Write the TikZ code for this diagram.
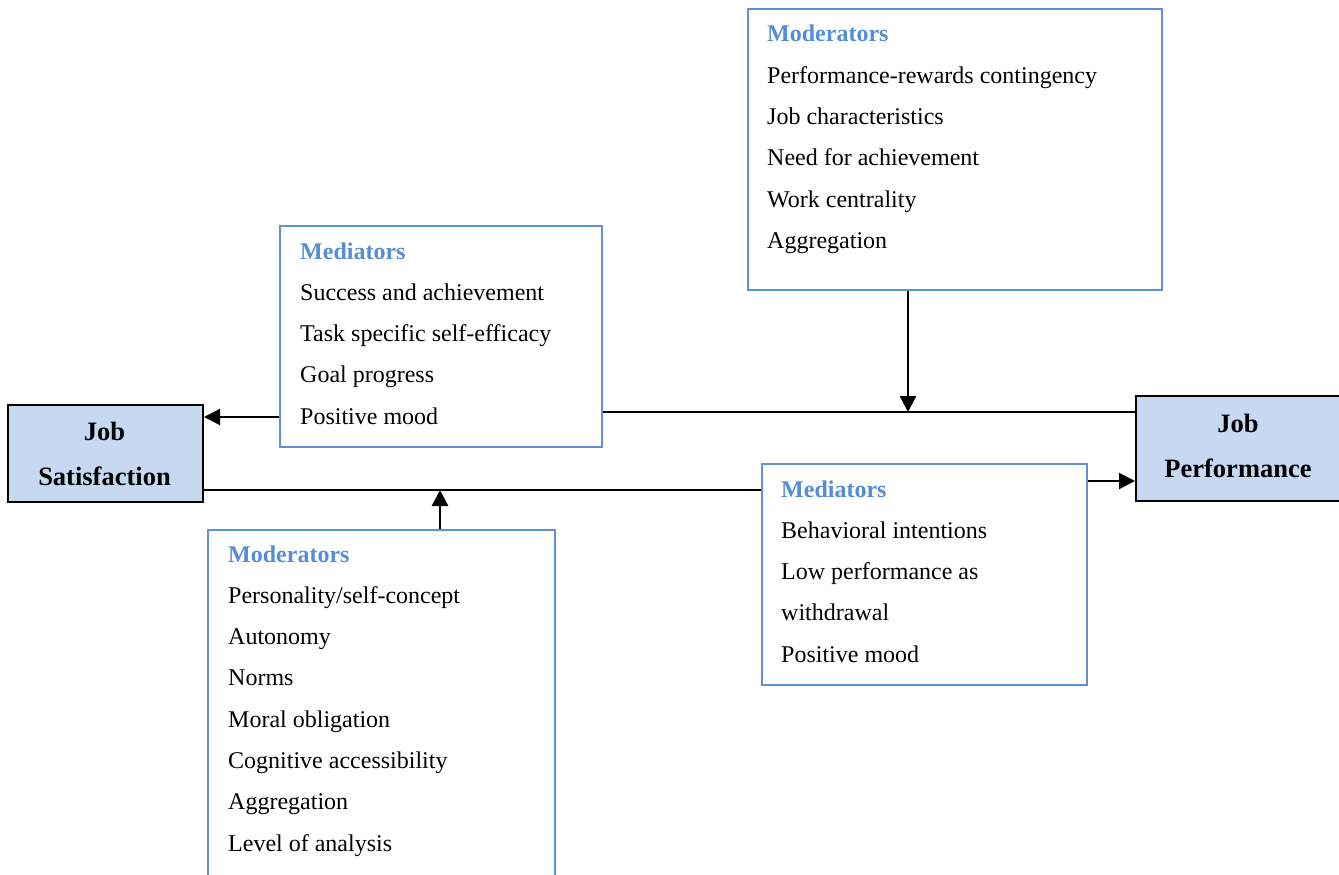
\documentclass[tikz,border=0pt]{standalone}
\usepackage{fontspec}
\setmainfont{Liberation Serif}
\usetikzlibrary{arrows.meta}
\definecolor{bordblue}{RGB}{95,145,215}
\definecolor{headblue}{RGB}{85,142,213}
\definecolor{fillblue}{RGB}{198,217,241}
\tikzset{
  bluebox/.style={draw=bordblue, line width=2pt, fill=white, anchor=north west, inner sep=0pt},
  mainbox/.style={draw=black, line width=2pt, fill=fillblue, anchor=north west, inner sep=0pt},
  txt/.style={anchor=base west, inner sep=0pt, font=\fontsize{24}{29}\selectfont},
  head/.style={txt, text=headblue, font=\fontsize{24}{29}\selectfont\bfseries},
  maintxt/.style={anchor=base, inner sep=0pt, font=\fontsize{26.5}{32}\selectfont\bfseries},
  conn/.style={draw=black, line width=2pt},
  arr/.style={conn, -{Triangle[length=16pt,width=16pt]}},
  varr/.style={arr, line width=2.6pt}
}
\begin{document}
\begin{tikzpicture}[x=1pt,y=-1pt]
\useasboundingbox (0,0) rectangle (1339,875);
% boxes
\node[mainbox, minimum width=195pt, minimum height=97pt] (js) at (7,404) {};
\node[mainbox, minimum width=210pt, minimum height=105pt] (jp) at (1135,395) {};
\node[bluebox, minimum width=322pt, minimum height=221pt] (med1) at (279,225) {};
\node[bluebox, minimum width=414pt, minimum height=281pt] (modtop) at (747,8) {};
\node[bluebox, minimum width=325pt, minimum height=221pt] (med2) at (761,463) {};
\node[bluebox, minimum width=347pt, minimum height=360pt] (modbot) at (207,529) {};
% main texts
\node[maintxt] (js1) at (104.5,440) {Job};
\node[maintxt] (js2) at (104.5,485) {Satisfaction};
\node[maintxt] (jp1) at (1238,432) {Job};
\node[maintxt] (jp2) at (1238,477) {Performance};
% top moderators
\node[head] (modtop-h) at (767,42) {Moderators};
\foreach \t [count=\i] in {Performance-rewards contingency,Job characteristics,Need for achievement,Work centrality,Aggregation}
  \node[txt] (modtop-\i) at (767,{42+41.3*\i}) {\t};
% mediators 1
\node[head] (med1-h) at (300,259) {Mediators};
\foreach \t [count=\i] in {Success and achievement,Task specific self-efficacy,Goal progress,Positive mood}
  \node[txt] (med1-\i) at (300,{259+41.3*\i}) {\t};
% mediators 2
\node[head] (med2-h) at (781,497) {Mediators};
\foreach \t [count=\i] in {Behavioral intentions,Low performance as,withdrawal,Positive mood}
  \node[txt] (med2-\i) at (781,{497+41.3*\i}) {\t};
% bottom moderators
\node[head] (modbot-h) at (228,562) {Moderators};
\foreach \t [count=\i] in {Personality/self-concept,Autonomy,Norms,Moral obligation,Cognitive accessibility,Aggregation,Level of analysis}
  \node[txt] (modbot-\i) at (228,{562+41.3*\i}) {\t};
% connectors
\coordinate (jtop) at (908,412);
\coordinate (jbot) at (440,490);
\draw[arr] (med1.west |- 0,417) -- (js.east |- 0,417);
\draw[conn] (med1.east |- jtop) -- (jp.west |- jtop);
\draw[varr] (modtop.south -| jtop) -- (jtop);
\draw[conn] (js.east |- jbot) -- (med2.west |- jbot);
\draw[varr] (modbot.north -| jbot) -- (jbot);
\draw[arr] (med2.east |- 0,481) -- (jp.west |- 0,481);
\end{tikzpicture}
\end{document}
